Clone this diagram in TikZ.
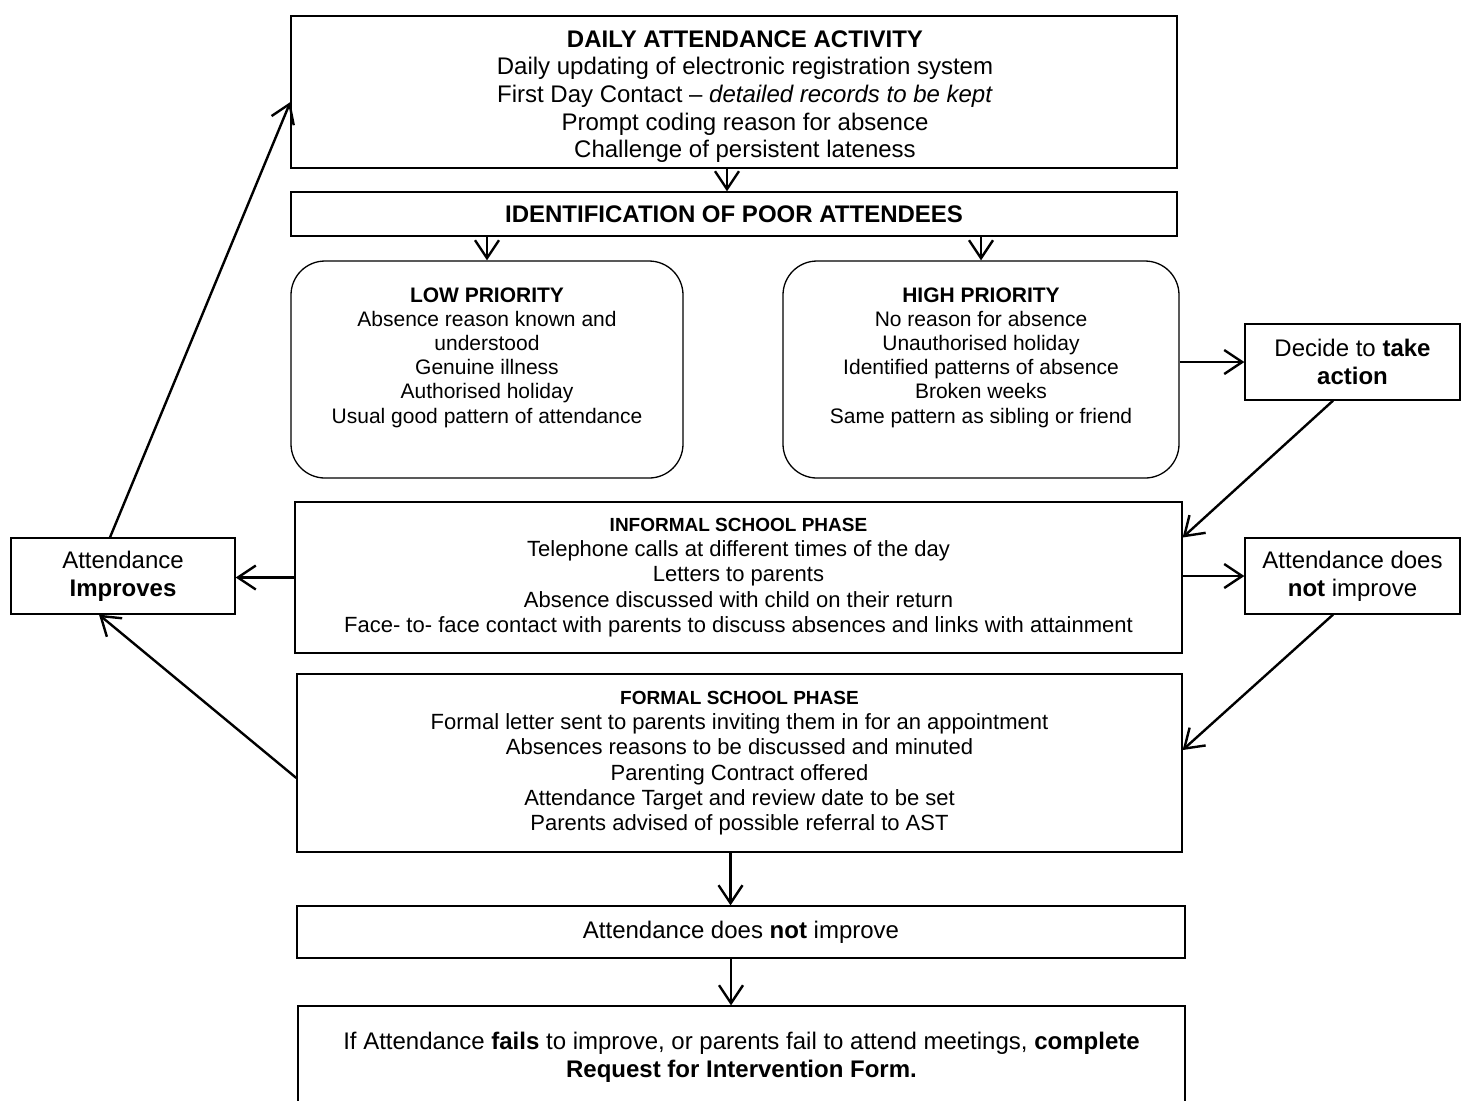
\documentclass[tikz,border=0pt]{standalone}
\usepackage{fontspec}
\setmainfont{Liberation Sans}
\usetikzlibrary{arrows.meta}

\begin{document}
\begin{tikzpicture}[x=0.5pt,y=-0.5pt]
    \tikzset{
        box/.style={draw, line width=0.65pt, inner sep=0pt, align=center,
            font=\fontsize{12}{13.8}\selectfont},
        phasebox/.style={box, font=\fontsize{11}{12.65}\selectfont},
        prio/.style={box, rounded corners=17pt, font=\fontsize{10.5}{12.075}\selectfont},
        arr/.style={line width=1.2pt, -{Straight Barb[length=9pt,width=12pt]}},}
    \def\phasetitle#1{{\fontsize{9.5}{12}\selectfont\bfseries #1}}
    \useasboundingbox (0,0) rectangle (1462,1100);
    % main column
    \node[box, minimum width=443pt, minimum height=76pt] (daily) at (734,92)
        {\hspace*{11pt}\begin{tabular}{@{}c@{}}
         \rule{0pt}{14.6pt}\textbf{DAILY ATTENDANCE ACTIVITY}\\
         Daily updating of electronic registration system\\
         First Day Contact -- \textit{detailed records to be kept}\\
         Prompt coding reason for absence\\
         Challenge of persistent lateness\end{tabular}};
    \node[box, minimum width=443pt, minimum height=22pt] (ident) at (734,214)
        {\textbf{IDENTIFICATION OF POOR ATTENDEES}};
    \node[prio, minimum width=196pt, minimum height=108.5pt] (low) at (487,369.5)
        {\textbf{LOW PRIORITY}\\
         Absence reason known and\\
         understood\\
         Genuine illness\\
         Authorised holiday\\
         Usual good pattern of attendance\\[2pt]\mbox{}};
    \node[prio, minimum width=198pt, minimum height=108.5pt] (high) at (981,369.5)
        {\textbf{HIGH PRIORITY}\\
         No reason for absence\\
         Unauthorised holiday\\
         Identified patterns of absence\\
         Broken weeks\\
         Same pattern as sibling or friend\\[2pt]\mbox{}};
    \node[phasebox, minimum width=443.5pt, minimum height=75.5pt] (informal) at (738.5,577.5)
        {\phasetitle{INFORMAL SCHOOL PHASE}\\
         Telephone calls at different times of the day\\
         Letters to parents\\
         Absence discussed with child on their return\\
         Face- to- face contact with parents to discuss absences and links with attainment};
    \node[phasebox, minimum width=442.5pt, minimum height=89pt] (formal) at (739.5,763)
        {\phasetitle{FORMAL SCHOOL PHASE}\\
         Formal letter sent to parents inviting them in for an appointment\\
         Absences reasons to be discussed and minuted\\
         Parenting Contract offered\\
         Attendance Target and review date to be set\\
         Parents advised of possible referral to AST};
    \node[box, minimum width=444pt, minimum height=26pt] (notimpB) at (741,932)
        {Attendance does \textbf{not} improve};
    \node[box, minimum width=443.5pt, minimum height=51pt] (final) at (741.5,1057)
        {If Attendance \textbf{fails} to improve, or parents fail to attend meetings, \textbf{complete}\\
         \textbf{Request for Intervention Form.}};
    % side boxes
    \node[box, minimum width=107.5pt, minimum height=38pt] (decide) at (1352.5,362)
        {Decide to \textbf{take}\\\textbf{action}};
    \node[box, minimum width=107.5pt, minimum height=38pt] (notimpR) at (1352.5,576)
        {Attendance does\\\textbf{not} improve};
    \node[box, minimum width=112pt, minimum height=38pt] (improves) at (123,576)
        {Attendance\\\textbf{Improves}};
    % connectors
    \draw[arr] ([xshift=-3.5pt]daily.south) -- ([xshift=-3.5pt]ident.north);
    \draw[arr] (ident.south -| low.north) -- (low.north);
    \draw[arr] (ident.south -| high.north) -- (high.north);
    \draw[arr] (decide.west -| high.east) -- (decide.west);
    \draw[arr] ([xshift=-9.75pt]decide.south) -- ([yshift=20pt]informal.east);
    \draw[arr] (notimpR.west -| informal.east) -- (notimpR.west);
    \draw[arr] ([xshift=-9.75pt]notimpR.south) -- ([yshift=6.5pt]formal.east);
    \draw[arr] (informal.west) -- (informal.west -| improves.east);
    \draw[arr] ([xshift=-6.5pt]improves.north) -- ([yshift=-5pt]daily.west);
    \draw[arr] ([yshift=-7.5pt]formal.west) -- ([xshift=-12pt]improves.south);
    \draw[arr] ([xshift=-4.5pt]formal.south) -- ([xshift=-4.5pt]formal.south |- notimpB.north);
    \draw[arr] ([xshift=-5pt]notimpB.south) -- ([xshift=-5pt]notimpB.south |- final.north);
\end{tikzpicture}
\end{document}
